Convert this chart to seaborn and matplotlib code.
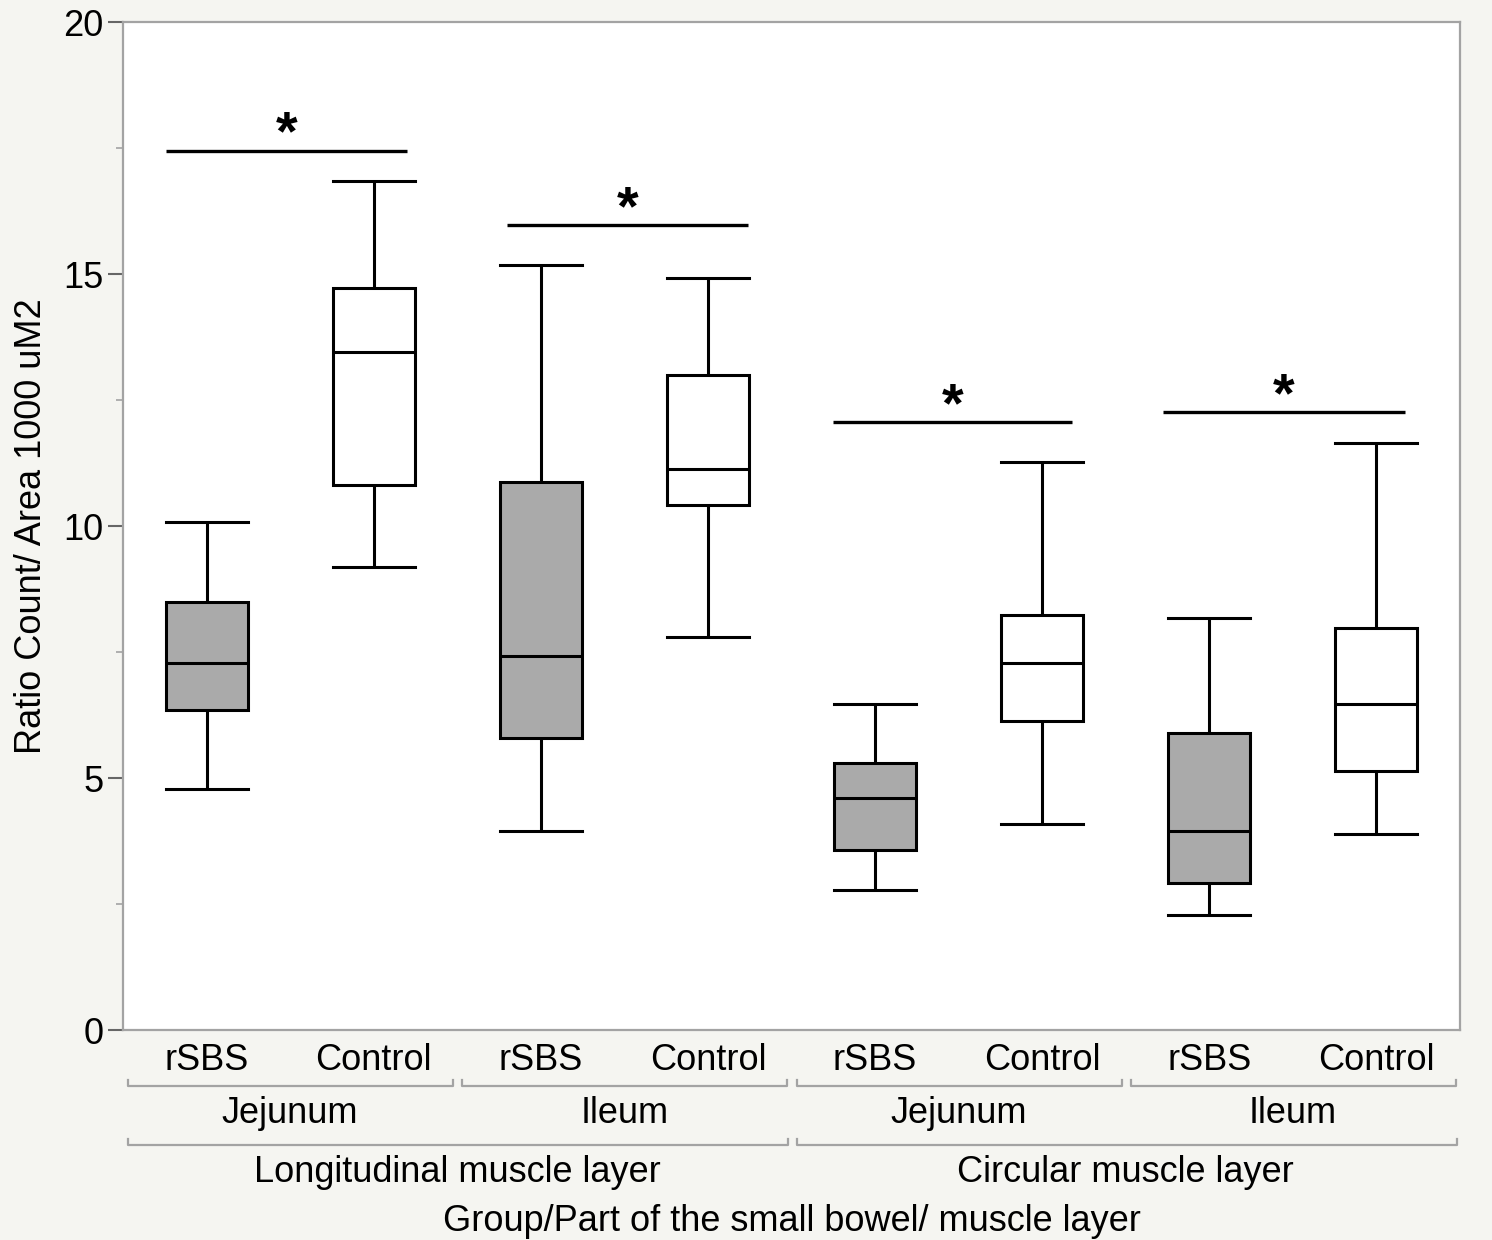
import numpy as np
import pandas as pd
import matplotlib
matplotlib.use("Agg")
import matplotlib.pyplot as plt
import matplotlib.transforms as mtransforms
from matplotlib.ticker import MultipleLocator
import seaborn as sns

# ============================================================
# DATA (five-number summaries)
# ============================================================

layers = ["Longitudinal muscle layer"] * 4 + ["Circular muscle layer"] * 4
parts = ["Jejunum", "Jejunum", "Ileum", "Ileum"] * 2
groups = ["rSBS", "Control"] * 4

whisker_low = [4.78, 9.19, 3.95, 7.80, 2.78, 4.09, 2.28, 3.89]
q1 = [6.35, 10.81, 5.79, 10.42, 3.57, 6.13, 2.92, 5.14]
median = [7.28, 13.45, 7.42, 11.13, 4.60, 7.28, 3.95, 6.47]
q3 = [8.49, 14.72, 10.87, 13.00, 5.30, 8.23, 5.89, 7.98]
whisker_high = [10.08, 16.85, 15.18, 14.92, 6.47, 11.27, 8.17, 11.65]

# significance bars
sig_x0 = [-0.24, 1.80, 3.75, 5.72]
sig_x1 = [1.20, 3.24, 5.18, 7.17]
sig_y = [17.45, 15.97, 12.06, 12.26]

# ============================================================
# LONG TABLE FOR SEABORN
# ============================================================

rows = []
for i in range(8):
    key = f"{layers[i]}|{parts[i]}|{groups[i]}"
    for v in (whisker_low[i], q1[i], median[i], q3[i], whisker_high[i]):
        rows.append({"key": key, "group": groups[i], "value": v})
df = pd.DataFrame(rows)
order = list(dict.fromkeys(df["key"]))

# ============================================================
# FIGURE
# ============================================================

plt.rcParams["font.family"] = ["Liberation Sans", "DejaVu Sans"]
spine_gray = "#a3a3a3"
label_size = 26

fig = plt.figure(figsize=(14.92, 12.4), dpi=100, facecolor="#f5f5f1")
ax = fig.add_axes([123 / 1492, 1 - 1030 / 1240, (1460 - 123) / 1492, (1030 - 22) / 1240])
ax.set_facecolor("white")

sns.boxplot(
    data=df, x="key", y="value", hue="group", order=order,
    palette={"rSBS": "#aaaaaa", "Control": "white"},
    dodge=False, legend=False, saturation=1,
    whis=(0, 100), width=0.49, linewidth=2.2, linecolor="black",
    capwidths=0.49, ax=ax,
)

ax.set_xlim(-0.5, 7.5)
ax.set_ylim(0, 20)

# ============================================================
# AXES STYLE
# ============================================================

for s in ax.spines.values():
    s.set_color(spine_gray)
    s.set_linewidth(1.6)

ax.yaxis.set_major_locator(MultipleLocator(5))
ax.yaxis.set_minor_locator(MultipleLocator(2.5))
ax.tick_params(axis="y", which="major", length=11, width=1.5, color="#666666",
               labelsize=label_size, pad=3)
ax.tick_params(axis="y", which="minor", length=5, width=1.2, color=spine_gray)
ax.set_ylabel("Ratio Count/ Area 1000 uM2", fontsize=label_size, labelpad=10)

ax.set_xticks(range(8))
ax.set_xticklabels(groups, fontsize=label_size)
ax.tick_params(axis="x", length=0, pad=9)
ax.set_xlabel("")

# ============================================================
# HIERARCHICAL X LABELS
# ============================================================

trans = mtransforms.blended_transform_factory(ax.transData, ax.transAxes)


def bracket(x0, x1, y):
    ax.plot([x0, x0, x1, x1], [y + 0.006, y, y, y + 0.006], color=spine_gray,
            lw=1.6, transform=trans, clip_on=False)


for j in range(4):
    a, b = 2 * j, 2 * j + 1
    bracket(a - 0.47, b + 0.475, -0.0556)
    ax.text((a + b) / 2, -0.083, parts[a], transform=trans, ha="center",
            va="center", fontsize=label_size)

for j in range(2):
    a, b = 4 * j, 4 * j + 3
    bracket(a - 0.47, b + 0.48, -0.114)
    ax.text((a + b) / 2, -0.141, layers[a], transform=trans, ha="center",
            va="center", fontsize=label_size)

ax.text(3.5, -0.190, "Group/Part of the small bowel/ muscle layer",
        transform=trans, ha="center", va="center", fontsize=label_size)

# ============================================================
# SIGNIFICANCE BARS
# ============================================================

for x0, x1, y in zip(sig_x0, sig_x1, sig_y):
    ax.plot([x0, x1], [y, y], color="black", lw=2.4, solid_capstyle="butt")
    ax.text((x0 + x1) / 2, y - 0.22, "*", ha="center", va="bottom",
            fontsize=40, fontweight="bold")

fig.savefig("out.png", dpi=100, facecolor=fig.get_facecolor())
